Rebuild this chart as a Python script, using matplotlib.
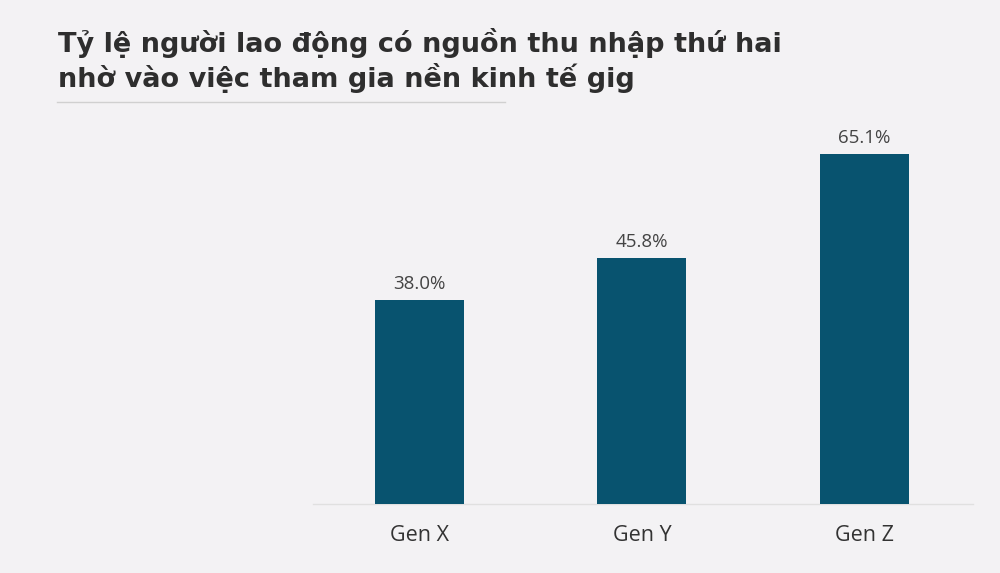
import matplotlib
matplotlib.use("Agg")
import matplotlib.pyplot as plt
from matplotlib.lines import Line2D

categories = ["Gen X", "Gen Y", "Gen Z"]
values = [38.0, 45.8, 65.1]
value_labels = ["38.0%", "45.8%", "65.1%"]
title_lines = ["Tỷ lệ người lao động có nguồn thu nhập thứ hai",
               "nhờ vào việc tham gia nền kinh tế gig"]

BG = "#f3f2f4"
BAR = "#08536f"
FONT = ["Open Sans", "Noto Sans", "DejaVu Sans"]
TITLE_FONT = ["DejaVu Sans"]
W, H = 1000, 573

fig = plt.figure(figsize=(10, 5.73), dpi=100, facecolor=BG)
ax = fig.add_axes([0.313, 0.1204, 0.66, 0.6573])
ax.set_facecolor(BG)

x = list(range(len(categories)))
ax.bar(x, values, width=0.4, color=BAR, zorder=3)
ax.set_xlim(-0.48, 2.49)
ax.set_ylim(0, 70)

for xi, v, lab in zip(x, values, value_labels):
    ax.annotate(lab, (xi, v), xytext=(0, 4.5), textcoords="offset points",
                ha="center", va="bottom", fontsize=13.5, color="#444444",
                family=FONT)

ax.set_xticks(x)
ax.set_xticklabels(categories, fontsize=15.5, color="#333333", family=FONT)
ax.tick_params(axis="x", length=0, pad=15)
ax.set_yticks([])
for s in ["top", "right", "left"]:
    ax.spines[s].set_visible(False)
ax.spines["bottom"].set_color("#e0e0e0")
ax.spines["bottom"].set_linewidth(1.0)

for line, base_px in zip(title_lines, [52, 87]):
    fig.text(58 / W, 1 - base_px / H, line, ha="left", va="baseline",
             fontsize=19.5, fontweight="bold", color="#2e2e2e", family=TITLE_FONT)
fig.add_artist(Line2D([57 / W, 505 / W], [1 - 102 / H, 1 - 102 / H],
                      transform=fig.transFigure, color="#d0d0d0", lw=1.0))

fig.savefig("out.png", dpi=100, facecolor=BG)
